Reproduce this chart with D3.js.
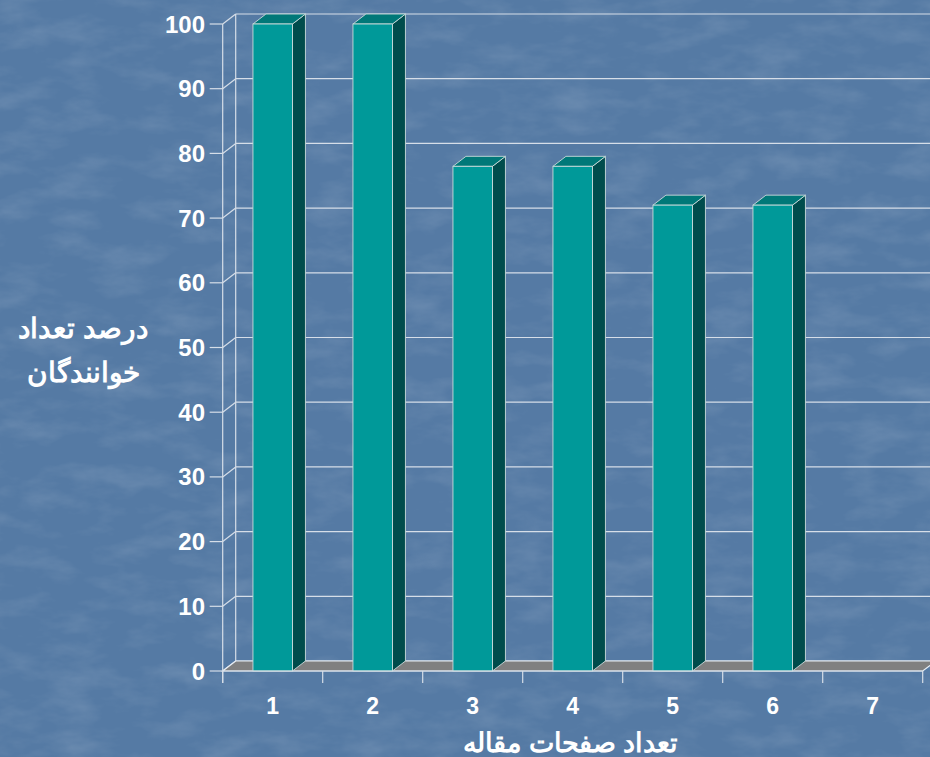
<!DOCTYPE html>
<html><head><meta charset="utf-8">
<script src="https://cdn.jsdelivr.net/npm/d3@7"></script>
<style>html,body{margin:0;padding:0;overflow:hidden;background:#5a7ea8}</style>
</head><body>
<script>
const categories = ["1","2","3","4","5","6","7"];
const values = [100, 100, 78, 78, 72, 72, 0];
const yTicks = [0,10,20,30,40,50,60,70,80,90,100];
const yTitle = ["درصد تعداد", "خوانندگان"];
const xTitle = "تعداد صفحات مقاله";

const W = 930, H = 757;
const svg = d3.select("body").append("svg").attr("width", W).attr("height", H)
  .style("font-family", "'Liberation Sans', Arial, sans-serif");

// background texture
const defs = svg.append("defs");
const f = defs.append("filter").attr("id","tex").attr("x",0).attr("y",0).attr("width","100%").attr("height","100%");
f.append("feTurbulence").attr("type","fractalNoise").attr("baseFrequency","0.02 0.045").attr("numOctaves",4).attr("seed",11).attr("result","n");
f.append("feColorMatrix").attr("in","n").attr("type","matrix")
  .attr("values","0 0 0 0 1  0 0 0 0 1  0 0 0 0 1  1.4 0 0 0 -0.6");
svg.append("rect").attr("width",W).attr("height",H).attr("fill","#557aa4");
svg.append("rect").attr("width",W).attr("height",H).attr("filter","url(#tex)").attr("opacity",0.16);

const x0 = 222.7, x1 = 922.7, yBase = 671, yTop = 24;
const dx = 13, dy = -10;
const x = d3.scaleBand().domain(categories).range([x0, x1]).paddingInner(0).paddingOuter(0);
const y = d3.scaleLinear().domain([0, 100]).range([yBase, yTop]);
const gridColor = "#d6dee8";

// back wall gridlines
svg.append("g").selectAll("line").data(yTicks).join("line")
  .attr("x1", x0 + dx).attr("x2", W + 20)
  .attr("y1", d => y(d) + dy).attr("y2", d => y(d) + dy)
  .attr("stroke", gridColor).attr("stroke-width", 1.2);
// left wall connectors
svg.append("g").selectAll("line").data(yTicks).join("line")
  .attr("x1", x0).attr("x2", x0 + dx)
  .attr("y1", d => y(d)).attr("y2", d => y(d) + dy)
  .attr("stroke", gridColor).attr("stroke-width", 1.2);
// back-left vertical edge
svg.append("line").attr("x1", x0 + dx).attr("x2", x0 + dx)
  .attr("y1", y(100) + dy).attr("y2", y(0) + dy)
  .attr("stroke", gridColor).attr("stroke-width", 1.2);

// floor
svg.append("path")
  .attr("d", `M${x0},${yBase} L${x1},${yBase} L${x1 + dx},${yBase + dy} L${x0 + dx},${yBase + dy} Z`)
  .attr("fill", "#808080").attr("stroke", "#e8eef4").attr("stroke-width", 1.2);

// bars
const bw = 39.5;
const data = categories.map((c, i) => ({c, v: values[i]})).filter(d => d.v > 0);
const bars = svg.append("g").selectAll("g").data(data).join("g");
const bx = d => x(d.c) + x.bandwidth() / 2 - bw / 2;
bars.append("path")
  .attr("d", d => { const a = bx(d) + bw, t = y(d.v);
    return `M${a},${t} L${a + dx},${t + dy} L${a + dx},${yBase + dy} L${a},${yBase} Z`; })
  .attr("fill", "#004c4c").attr("stroke", "#c9dada").attr("stroke-width", 0.9);
bars.append("path")
  .attr("d", d => { const a = bx(d), t = y(d.v);
    return `M${a},${t} L${a + dx},${t + dy} L${a + bw + dx},${t + dy} L${a + bw},${t} Z`; })
  .attr("fill", "#007878").attr("stroke", "#c9dada").attr("stroke-width", 0.9);
bars.append("rect")
  .attr("x", bx).attr("y", d => y(d.v)).attr("width", bw).attr("height", d => yBase - y(d.v))
  .attr("fill", "#009999").attr("stroke", "#c9dada").attr("stroke-width", 0.9);

// front axes
svg.append("line").attr("x1", x0).attr("x2", x0).attr("y1", y(100)).attr("y2", yBase + 12)
  .attr("stroke", gridColor).attr("stroke-width", 1.2);
svg.append("line").attr("x1", x0).attr("x2", x1).attr("y1", yBase).attr("y2", yBase)
  .attr("stroke", gridColor).attr("stroke-width", 1.2);
// y ticks
svg.append("g").selectAll("line").data(yTicks).join("line")
  .attr("x1", x0 - 13).attr("x2", x0).attr("y1", d => y(d)).attr("y2", d => y(d))
  .attr("stroke", gridColor).attr("stroke-width", 1.2);
svg.append("g").selectAll("text").data(yTicks).join("text")
  .attr("x", 205).attr("y", d => y(d) + 8.5).attr("text-anchor", "end")
  .attr("fill", "#fff").attr("font-weight", "bold").attr("font-size", 24).text(d => d);
// x ticks
const xEdges = categories.map(c => x(c)).concat([x1]);
svg.append("g").selectAll("line").data(xEdges).join("line")
  .attr("x1", d => d).attr("x2", d => d).attr("y1", yBase).attr("y2", yBase + 12)
  .attr("stroke", gridColor).attr("stroke-width", 1.2);
svg.append("g").selectAll("text").data(categories).join("text")
  .attr("x", d => x(d) + x.bandwidth() / 2).attr("y", 714).attr("text-anchor", "middle")
  .attr("fill", "#fff").attr("font-weight", "bold").attr("font-size", 23).text(d => d);

// titles
svg.append("g").selectAll("text").data(yTitle).join("text")
  .attr("x", 83).attr("y", (d, i) => 338 + i * 44).attr("text-anchor", "middle")
  .attr("direction", "rtl").attr("fill", "#fff").attr("font-weight", "bold").attr("font-size", 28).text(d => d);
svg.append("text").attr("x", 571).attr("y", 752).attr("text-anchor", "middle")
  .attr("direction", "rtl").attr("fill", "#fff").attr("font-weight", "bold").attr("font-size", 27).text(xTitle);
</script>
</body></html>
